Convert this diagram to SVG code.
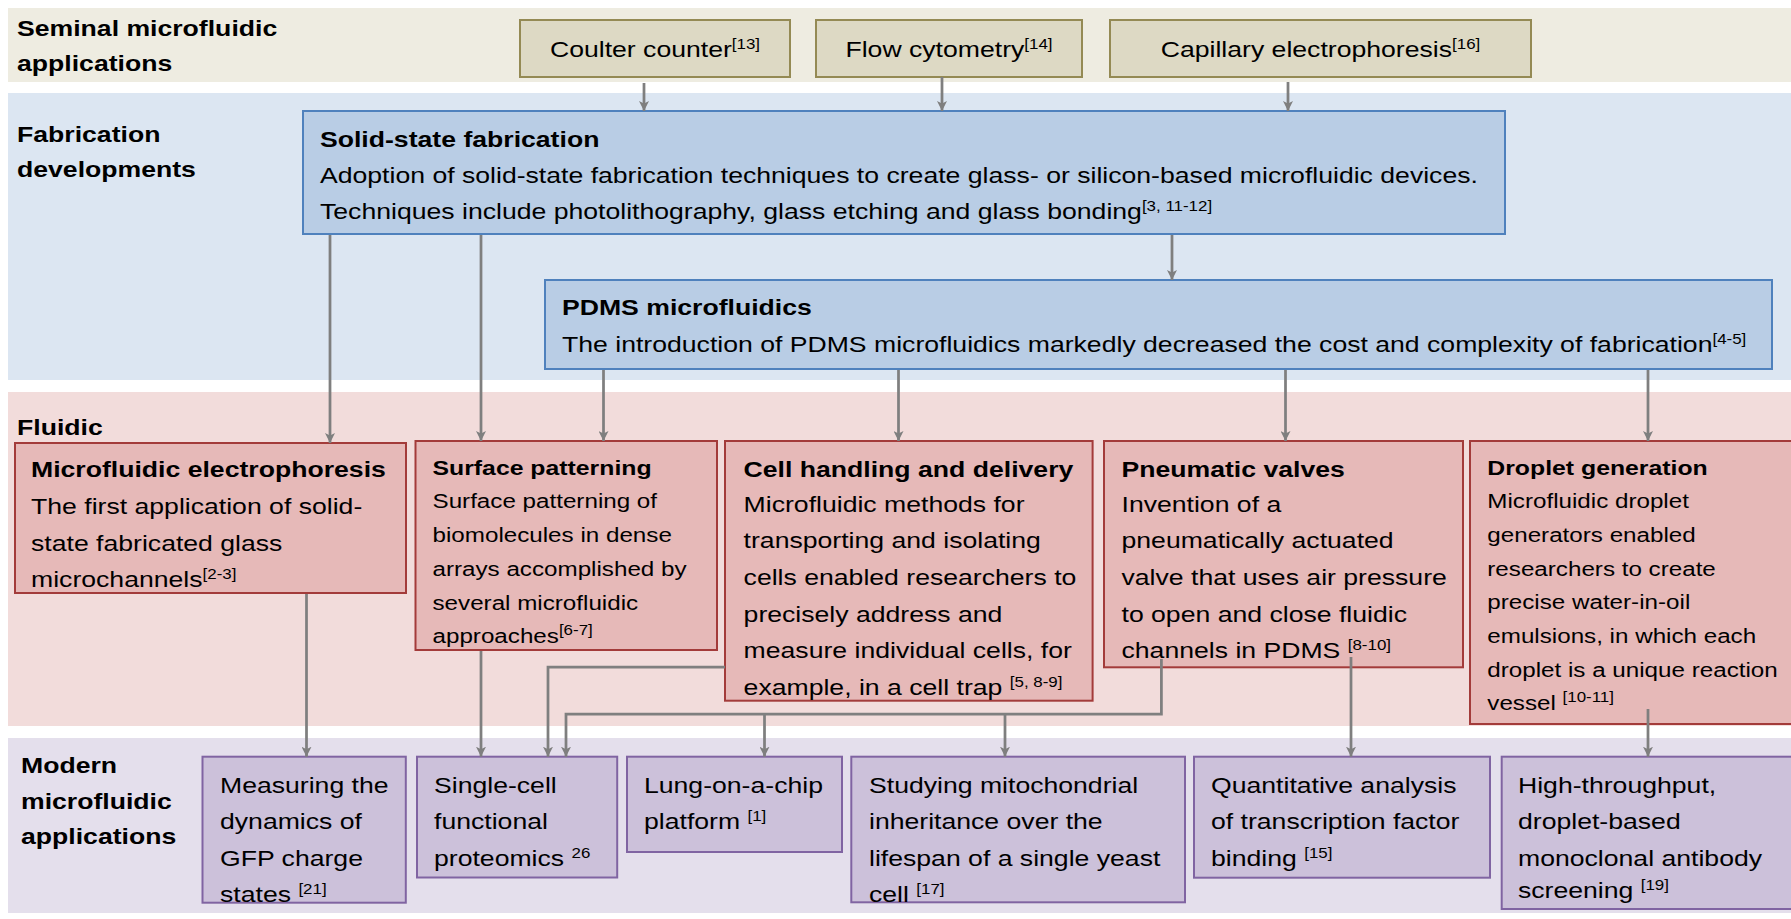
<svg xmlns="http://www.w3.org/2000/svg" width="1791" height="919" viewBox="0 0 1791 919">
<defs>
<style>
.t{font-family:"Liberation Sans",Arial,sans-serif;fill:#000;}
.lab{font-size:22px;font-weight:bold;}
.b{font-size:22px;}
.h{font-size:22px;font-weight:bold;}
.b20{font-size:20px;}
.h20{font-size:20.5px;font-weight:bold;}
.sup{font-size:14px;}
.sem{fill:#DDD9C4;stroke:#948A54;stroke-width:2;}
.fab{fill:#B9CDE5;stroke:#4F81BD;stroke-width:2;}
.flu{fill:#E6B9B8;stroke:#A33B3A;stroke-width:2;}
.mod{fill:#CCC1DA;stroke:#8064A2;stroke-width:2;}
.c{fill:none;stroke:#7F7F7F;stroke-width:2.75;}
.a{marker-end:url(#ah);}
</style>
<marker id="ah" viewBox="0 0 10 10" refX="10" refY="5" markerWidth="10" markerHeight="10" markerUnits="userSpaceOnUse" orient="auto"><path d="M0,0 L10,5 L0,10 L2.5,5 z" fill="#7F7F7F"/></marker>
</defs>
<rect width="1791" height="919" fill="#FFFFFF"/>
<g id="bands">
<rect x="8" y="8" width="1783" height="74" fill="#EEECE1"/>
<rect x="8" y="93" width="1783" height="287" fill="#DCE6F2"/>
<rect x="8" y="392" width="1783" height="334" fill="#F2DCDB"/>
<rect x="8" y="738" width="1783" height="175" fill="#E4DFEC"/>
</g>
<g id="band-labels">
<text class="t lab" transform="scale(1.21 1)"><tspan x="14.05" y="36">Seminal microfluidic</tspan><tspan x="14.05" y="71">applications</tspan></text>
<text class="t lab" transform="scale(1.21 1)"><tspan x="14.05" y="142">Fabrication</tspan><tspan x="14.05" y="177">developments</tspan></text>
<text class="t lab" transform="scale(1.21 1)"><tspan x="14.05" y="435">Fluidic</tspan></text>
<text class="t lab" transform="scale(1.21 1)"><tspan x="17.36" y="773">Modern</tspan><tspan x="17.36" y="809">microfluidic</tspan><tspan x="17.36" y="844">applications</tspan></text>
</g>
<g id="coulter">
<rect class="sem" x="520" y="20" width="270" height="57"/>
<text class="t b" transform="scale(1.21 1)" x="541.32" y="57" text-anchor="middle">Coulter counter<tspan class="sup" dy="-8">[13]</tspan></text>
</g>
<g id="flow">
<rect class="sem" x="816" y="20" width="266" height="57"/>
<text class="t b" transform="scale(1.21 1)" x="784.30" y="57" text-anchor="middle">Flow cytometry<tspan class="sup" dy="-8">[14]</tspan></text>
</g>
<g id="capillary">
<rect class="sem" x="1110" y="20" width="421" height="57"/>
<text class="t b" transform="scale(1.21 1)" x="1091.32" y="57" text-anchor="middle">Capillary electrophoresis<tspan class="sup" dy="-8">[16]</tspan></text>
</g>
<g id="solid-state">
<rect class="fab" x="303" y="111" width="1202" height="123"/>
<text class="t h" transform="scale(1.21 1)" x="264.46" y="147">Solid-state fabrication</text>
<text class="t b" transform="scale(1.21 1)"><tspan x="264.46" y="183">Adoption of solid-state fabrication techniques to create glass- or silicon-based microfluidic devices.</tspan><tspan x="264.46" y="219">Techniques include photolithography, glass etching and glass bonding</tspan><tspan class="sup" dy="-8">[3, 11-12]</tspan></text>
</g>
<g id="pdms">
<rect class="fab" x="545" y="280" width="1227" height="89"/>
<text class="t h" transform="scale(1.21 1)" x="464.46" y="315">PDMS microfluidics</text>
<text class="t b" transform="scale(1.21 1)" x="464.46" y="352">The introduction of PDMS microfluidics markedly decreased the cost and complexity of fabrication<tspan class="sup" dy="-8">[4-5]</tspan></text>
</g>
<g id="electrophoresis">
<rect class="flu" x="15" y="443" width="391" height="150"/>
<text class="t h" transform="scale(1.21 1)" x="25.62" y="477">Microfluidic electrophoresis</text>
<text class="t b" transform="scale(1.21 1)"><tspan x="25.62" y="514">The first application of solid-</tspan><tspan x="25.62" y="550.7">state fabricated glass</tspan><tspan x="25.62" y="587">microchannels</tspan><tspan class="sup" dy="-8">[2-3]</tspan></text>
</g>
<g id="surface-patterning">
<rect class="flu" x="415.5" y="441" width="301.5" height="209"/>
<text class="t h20" transform="scale(1.21 1)" x="357.44" y="475">Surface patterning</text>
<text class="t b20" transform="scale(1.21 1)"><tspan x="357.44" y="508.3">Surface patterning of</tspan><tspan x="357.44" y="542">biomolecules in dense</tspan><tspan x="357.44" y="576">arrays accomplished by</tspan><tspan x="357.44" y="610">several microfluidic</tspan><tspan x="357.44" y="643.5">approaches</tspan><tspan class="sup" dy="-8">[6-7]</tspan></text>
</g>
<g id="cell-handling">
<rect class="flu" x="725" y="441" width="367.6" height="259.7"/>
<text class="t h" transform="scale(1.21 1)" x="614.55" y="476.7">Cell handling and delivery</text>
<text class="t b" transform="scale(1.21 1)"><tspan x="614.55" y="511.7">Microfluidic methods for</tspan><tspan x="614.55" y="548.4">transporting and isolating</tspan><tspan x="614.55" y="585.1">cells enabled researchers to</tspan><tspan x="614.55" y="621.8">precisely address and</tspan><tspan x="614.55" y="658.5">measure individual cells, for</tspan><tspan x="614.55" y="695.2">example, in a cell trap </tspan><tspan class="sup" dy="-8">[5, 8-9]</tspan></text>
</g>
<g id="pneumatic">
<rect class="flu" x="1104" y="441" width="359" height="226.3"/>
<text class="t h" transform="scale(1.21 1)" x="926.86" y="476.7">Pneumatic valves</text>
<text class="t b" transform="scale(1.21 1)"><tspan x="926.86" y="511.7">Invention of a</tspan><tspan x="926.86" y="548.4">pneumatically actuated</tspan><tspan x="926.86" y="585.1">valve that uses air pressure</tspan><tspan x="926.86" y="621.8">to open and close fluidic</tspan><tspan x="926.86" y="658.5">channels in PDMS </tspan><tspan class="sup" dy="-8">[8-10]</tspan></text>
</g>
<g id="droplet">
<rect class="flu" x="1470" y="441" width="330" height="283"/>
<text class="t h20" transform="scale(1.21 1)" x="1229.17" y="475">Droplet generation</text>
<text class="t b20" transform="scale(1.21 1)"><tspan x="1229.17" y="508.3">Microfluidic droplet</tspan><tspan x="1229.17" y="542">generators enabled</tspan><tspan x="1229.17" y="575.7">researchers to create</tspan><tspan x="1229.17" y="609.3">precise water-in-oil</tspan><tspan x="1229.17" y="643">emulsions, in which each</tspan><tspan x="1229.17" y="676.7">droplet is a unique reaction</tspan><tspan x="1229.17" y="710.3">vessel </tspan><tspan class="sup" dy="-8">[10-11]</tspan></text>
</g>
<g id="measuring">
<rect class="mod" x="202.5" y="756.7" width="203.3" height="146"/>
<text class="t b" transform="scale(1.21 1)"><tspan x="181.82" y="793">Measuring the</tspan><tspan x="181.82" y="829.5">dynamics of</tspan><tspan x="181.82" y="866">GFP charge</tspan><tspan x="181.82" y="902">states </tspan><tspan class="sup" dy="-8">[21]</tspan></text>
</g>
<g id="single-cell">
<rect class="mod" x="417" y="756.7" width="200.2" height="120.8"/>
<text class="t b" transform="scale(1.21 1)"><tspan x="358.68" y="793">Single-cell</tspan><tspan x="358.68" y="829.5">functional</tspan><tspan x="358.68" y="866">proteomics </tspan><tspan class="sup" dy="-8">26</tspan></text>
</g>
<g id="lung">
<rect class="mod" x="627" y="756.7" width="215" height="95.3"/>
<text class="t b" transform="scale(1.21 1)"><tspan x="532.23" y="793">Lung-on-a-chip</tspan><tspan x="532.23" y="829.5">platform </tspan><tspan class="sup" dy="-8">[1]</tspan></text>
</g>
<g id="studying">
<rect class="mod" x="851.3" y="756.7" width="333.7" height="145.6"/>
<text class="t b" transform="scale(1.21 1)"><tspan x="718.18" y="793">Studying mitochondrial</tspan><tspan x="718.18" y="829.5">inheritance over the</tspan><tspan x="718.18" y="866">lifespan of a single yeast</tspan><tspan x="718.18" y="902">cell </tspan><tspan class="sup" dy="-8">[17]</tspan></text>
</g>
<g id="quantitative">
<rect class="mod" x="1194" y="756.7" width="296" height="121"/>
<text class="t b" transform="scale(1.21 1)"><tspan x="1000.83" y="793">Quantitative analysis</tspan><tspan x="1000.83" y="829.5">of transcription factor</tspan><tspan x="1000.83" y="866">binding </tspan><tspan class="sup" dy="-8">[15]</tspan></text>
</g>
<g id="high-throughput">
<rect class="mod" x="1501.7" y="756.7" width="300" height="152.3"/>
<text class="t b" transform="scale(1.21 1)"><tspan x="1254.55" y="793">High-throughput,</tspan><tspan x="1254.55" y="829.5">droplet-based</tspan><tspan x="1254.55" y="866">monoclonal antibody</tspan><tspan x="1254.55" y="898">screening </tspan><tspan class="sup" dy="-8">[19]</tspan></text>
</g>
<g id="connectors">
<path class="c a" d="M644,83 V111"/>
<path class="c a" d="M942,77 V111"/>
<path class="c a" d="M1288,82 V111"/>
<path class="c a" d="M330,235 V443"/>
<path class="c a" d="M481,235 V441"/>
<path class="c a" d="M1172,235 V280"/>
<path class="c a" d="M603.5,370 V441"/>
<path class="c a" d="M898.5,370 V441"/>
<path class="c a" d="M1285.5,370 V441"/>
<path class="c a" d="M1648,370 V441"/>
<path class="c a" d="M306.5,594 V756.7"/>
<path class="c a" d="M481,651 V756.7"/>
<path class="c a" d="M725,667 H548 V756.7"/>
<path class="c a" d="M1161.4,659 V714 H566 V756.7"/>
<path class="c a" d="M764.5,714 V756.7"/>
<path class="c a" d="M1005,714 V756.7"/>
<path class="c a" d="M1351,657 V756.7"/>
<path class="c a" d="M1648,709 V756.7"/>
</g>
</svg>
